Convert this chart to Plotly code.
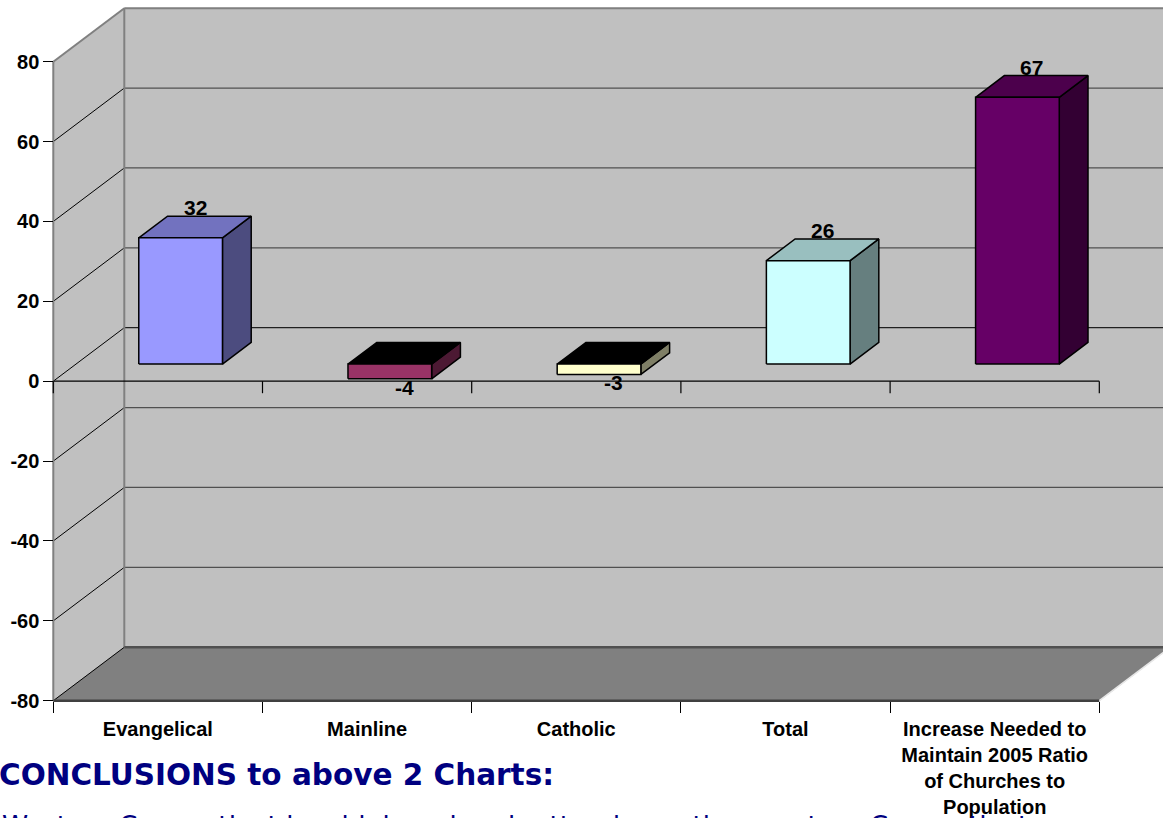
import plotly.graph_objects as go

# ---------------- data ----------------
categories = ["Evangelical", "Mainline", "Catholic", "Total",
              "Increase Needed to<br>Maintain 2005 Ratio<br>of Churches to<br>Population"]
values = [31.6, -3.7, -2.6, 25.9, 66.8]
labels = ["32", "-4", "-3", "26", "67"]
front_colors = ["#9999FF", "#993366", "#FFFFCC", "#CCFFFF", "#660066"]
y_ticks = [-80, -60, -40, -20, 0, 20, 40, 60, 80]
heading = "CONCLUSIONS to above 2 Charts:"
body_text = "Western Connecticut has higher church attendance than eastern Connecticut"

# ---------------- layout geometry (pixels) ----------------
W, H = 1163, 818
X0_PX, PX_PER_SLOT = 53.3, 209.2
Y0_PX, PX_PER_UNIT = 381.2, 3.994
DEPTH_DX_PX, DEPTH_DY_PX = 71.0, 53.5
N = len(categories)
YMIN, YMAX = y_ticks[0], y_ticks[-1]

xlo = -X0_PX / PX_PER_SLOT
xhi = (W - X0_PX) / PX_PER_SLOT
yhi = Y0_PX / PX_PER_UNIT
ylo = -(H - Y0_PX) / PX_PER_UNIT
DX = DEPTH_DX_PX / PX_PER_SLOT
DY = DEPTH_DY_PX / PX_PER_UNIT
F1, F2 = 0.32, 0.725
BAR_W = 0.40


def P(x, v, f):
    return x + f * DX, v + f * DY


def shade(hexcol, k):
    h = hexcol.lstrip("#")
    r, g, b = (int(h[i:i + 2], 16) for i in (0, 2, 4))
    return "#%02X%02X%02X" % (int(r * k), int(g * k), int(b * k))


fig = go.Figure()


def poly(pts, fill, line_color=None, lw=0):
    xs = [P(*p)[0] for p in pts] + [P(*pts[0])[0]]
    ys = [P(*p)[1] for p in pts] + [P(*pts[0])[1]]
    fig.add_trace(go.Scatter(x=xs, y=ys, mode="lines", fill="toself", fillcolor=fill,
                             line=dict(color=line_color or fill, width=lw if lw else 0.5),
                             hoverinfo="skip", showlegend=False))


def lines(segs, color, lw):
    xs, ys = [], []
    for a, b in segs:
        pa, pb = P(*a), P(*b)
        xs += [pa[0], pb[0], None]
        ys += [pa[1], pb[1], None]
    fig.add_trace(go.Scatter(x=xs, y=ys, mode="lines", line=dict(color=color, width=lw),
                             hoverinfo="skip", showlegend=False))


# walls and floor
poly([(0, YMIN, 1), (N, YMIN, 1), (N, YMAX, 1), (0, YMAX, 1)], "#C0C0C0")
poly([(0, YMIN, 0), (0, YMIN, 1), (0, YMAX, 1), (0, YMAX, 0)], "#C0C0C0")
poly([(0, YMIN, 0), (N, YMIN, 0), (N, YMIN, 1), (0, YMIN, 1)], "#808080")

# gridlines
inner = [t for t in y_ticks if YMIN < t < YMAX]
lines([((0, t, 1), (N, t, 1)) for t in inner if t != 0], "#505050", 1.2)
lines([((0, 0, 1), (N, 0, 1))], "#202020", 1.2)
lines([((0, t, 0), (0, t, 1)) for t in inner], "#000000", 1)
lines([((0, YMIN, 0), (0, YMIN, 1))], "#000000", 1)
# wall edges
lines([((0, YMIN, 0), (0, YMAX, 0)), ((0, YMIN, 1), (0, YMAX, 1)),
       ((0, YMAX, 1), (N, YMAX, 1)), ((0, YMAX, 0), (0, YMAX, 1))], "#808080", 2)
lines([((0, YMIN, 1), (N, YMIN, 1))], "#505050", 2.5)
lines([((0, YMIN, 0), (N, YMIN, 0))], "#404040", 2.5)
lines([((N, YMIN, 0), (N, YMIN, 1))], "#E8E8E8", 1.5)

# zero axis line with category boundary ticks
tick_units = 12 / PX_PER_UNIT
lines([((0, 0, 0), (N, 0, 0))] + [((i, 0, 0), (i, -tick_units, 0)) for i in range(N + 1)],
      "#000000", 1.2)

# bars
annotations = []
for i, (v, col, lab) in enumerate(zip(values, front_colors, labels)):
    x0 = i + 0.5 - BAR_W / 2
    x1 = x0 + BAR_W
    lo, hi = min(0, v), max(0, v)
    top_col = shade(col, 0.75) if v >= 0 else "#000000"
    poly([(x1, lo, F1), (x1, lo, F2), (x1, hi, F2), (x1, hi, F1)], shade(col, 0.5), "#000000", 1.5)
    poly([(x0, hi, F1), (x1, hi, F1), (x1, hi, F2), (x0, hi, F2)], top_col, "#000000", 1.5)
    poly([(x0, lo, F1), (x1, lo, F1), (x1, hi, F1), (x0, hi, F1)], col, "#000000", 1.5)
    xc = (P(x0, 0, F1)[0] + P(x1, 0, F2)[0]) / 2
    if v >= 0:
        yl, ys = P(x0, hi, F2)[1], 8.5
    else:
        yl, ys = P(x0, lo, F1)[1], -8.5
    annotations.append(dict(x=xc, y=yl, xref="x", yref="y", text=lab, showarrow=False,
                            xanchor="center", yanchor="middle", yshift=ys,
                            font=dict(family="Liberation Sans, Arial", size=21, color="#000000",
                                      weight="bold")))

annotations.append(dict(x=-3 / W, y=1 - 775 / H, xref="paper", yref="paper", text=heading,
                        showarrow=False, xanchor="left", yanchor="middle",
                        font=dict(family="DejaVu Sans, Verdana", size=29.5, color="#000080",
                                  weight="bold")))
annotations.append(dict(x=0, y=1 - 808 / H, xref="paper", yref="paper", text=body_text,
                        showarrow=False, xanchor="left", yanchor="top",
                        font=dict(family="DejaVu Sans, Verdana", size=26.5, color="#000080")))

fig.update_layout(
    width=W, height=H, autosize=False,
    margin=dict(l=0, r=0, t=0, b=0, pad=0),
    paper_bgcolor="white", plot_bgcolor="white",
    showlegend=False,
    annotations=annotations,
    xaxis=dict(range=[xlo, xhi], domain=[0, 1], anchor="free",
               position=(YMIN - ylo) / (yhi - ylo),
               tickmode="array", tickvals=[i + 0.5 for i in range(N)], ticktext=categories,
               ticks="", showgrid=False, zeroline=False, showline=False,
               ticklabelstandoff=14,
               tickfont=dict(family="Liberation Sans, Arial", size=20, color="#000000",
                             weight="bold"),
               minor=dict(tickmode="array", tickvals=list(range(N + 1)), ticks="outside",
                          ticklen=11, tickwidth=1.2, tickcolor="#000000", showgrid=False)),
    yaxis=dict(range=[ylo, yhi], domain=[0, 1], anchor="free",
               position=X0_PX / W,
               tickmode="array", tickvals=y_ticks, ticktext=[str(t) for t in y_ticks],
               ticks="outside", ticklen=10, tickwidth=1.2, tickcolor="#000000",
               showgrid=False, zeroline=False, showline=False,
               tickfont=dict(family="Liberation Sans, Arial", size=20, color="#000000",
                             weight="bold")),
)

fig.write_html("out.html", config={"displayModeBar": False},
               post_script="document.body.style.margin='0';document.body.style.padding='0';"
                           "document.body.style.overflow='hidden';")
